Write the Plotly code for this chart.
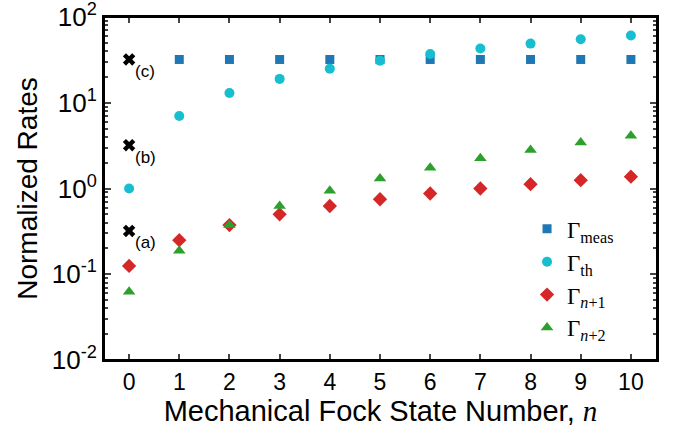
import math
import plotly.graph_objects as go

n_meas = [1, 2, 3, 4, 5, 6, 7, 8, 9, 10]
g_meas = [32, 32, 32, 32, 32, 32, 32, 32, 32, 32]
n_all = [0, 1, 2, 3, 4, 5, 6, 7, 8, 9, 10]
g_th = [1.0, 7.0, 13.0, 19.0, 25.0, 31.0, 37.0, 43.0, 49.0, 55.0, 61.0]
g_n1 = [0.125, 0.25, 0.375, 0.5, 0.625, 0.75, 0.875, 1.0, 1.125, 1.25, 1.375]
g_n2 = [0.0625, 0.1875, 0.375, 0.625, 0.94, 1.31, 1.75, 2.25, 2.81, 3.44, 4.12]
x_marks = [0, 0, 0]
y_marks = [0.32, 3.2, 32]
mark_labels = ["(a)", "(b)", "(c)"]
y_tickvals = [0.01, 0.1, 1, 10, 100]
y_ticktext = ["10<sup>-2</sup>", "10<sup>-1</sup>", "10<sup>0</sup>", "10<sup>1</sup>", "10<sup>2</sup>"]
legend_names = ["meas", "th", "<i>n</i>+1", "<i>n</i>+2"]

SANS = "Liberation Sans, Arial, sans-serif"
SERIF = "Liberation Serif, DejaVu Serif, serif"


def gname(sub):
    return "Γ<sub>" + sub + "</sub>"


fig = go.Figure()
fig.add_trace(go.Scatter(x=n_meas, y=g_meas, mode="markers", name=gname(legend_names[0]),
                         marker=dict(symbol="square", size=9, color="#1f77b4")))
fig.add_trace(go.Scatter(x=n_all, y=g_th, mode="markers", name=gname(legend_names[1]),
                         marker=dict(symbol="circle", size=10, color="#17becf")))
fig.add_trace(go.Scatter(x=n_all, y=g_n1, mode="markers", name=gname(legend_names[2]),
                         marker=dict(symbol="diamond", size=11, color="#d62728")))
fig.add_trace(go.Scatter(x=n_all, y=g_n2, mode="markers", name=gname(legend_names[3]),
                         marker=dict(symbol="triangle-up", size=11, color="#2ca02c")))
fig.add_trace(go.Scatter(x=x_marks, y=y_marks, mode="markers", showlegend=False,
                         marker=dict(symbol="x", size=11, color="black")))

for xv, yv, lab in zip(x_marks, y_marks, mark_labels):
    fig.add_annotation(x=xv, y=math.log10(yv), xref="x", yref="y", text=lab, showarrow=False,
                       xanchor="left", yanchor="middle", xshift=4, yshift=-12,
                       font=dict(family=SANS, size=17, color="black"))

fig.add_shape(type="rect", xref="paper", yref="paper", x0=0, y0=0, x1=1, y1=1,
              line=dict(color="black", width=2), fillcolor="rgba(0,0,0,0)", layer="above")

fig.update_layout(
    width=677, height=435,
    margin=dict(l=104, r=20, t=17, b=75),
    plot_bgcolor="white", paper_bgcolor="white",
    showlegend=True,
    legend=dict(x=0.765, y=0.445, xanchor="left", yanchor="top",
                font=dict(family=SERIF, size=23, color="black"),
                bgcolor="rgba(0,0,0,0)", itemsizing="trace", tracegroupgap=0),
)
fig.update_xaxes(
    range=[-0.5, 10.52], tickmode="array", tickvals=n_all, automargin=False,
    ticks="inside", ticklen=6, tickwidth=1.5, mirror="allticks",
    showline=True, linecolor="black", linewidth=2, showgrid=False, zeroline=False,
    tickfont=dict(family=SANS, size=23, color="black"),
    title=dict(text="Mechanical Fock State Number, <span style='font-family:Liberation Serif'><i>n</i></span>",
               font=dict(family=SANS, size=29, color="black"), standoff=2),
)
fig.update_yaxes(
    type="log", range=[-2, 2.0005], tickmode="array", tickvals=y_tickvals, ticktext=y_ticktext,
    automargin=False, ticklabeloverflow="allow",
    ticks="inside", ticklen=7, tickwidth=1.5, mirror="allticks",
    minor=dict(ticks="inside", ticklen=4, dtick="D1", showgrid=False),
    showline=True, linecolor="black", linewidth=2, showgrid=False, zeroline=False,
    tickfont=dict(family=SANS, size=26, color="black"),
    title=dict(text="Normalized Rates", font=dict(family=SANS, size=28, color="black"), standoff=6),
)

fig.write_html("out.html", config={"displayModeBar": False},
               post_script="document.body.style.margin='0';")
